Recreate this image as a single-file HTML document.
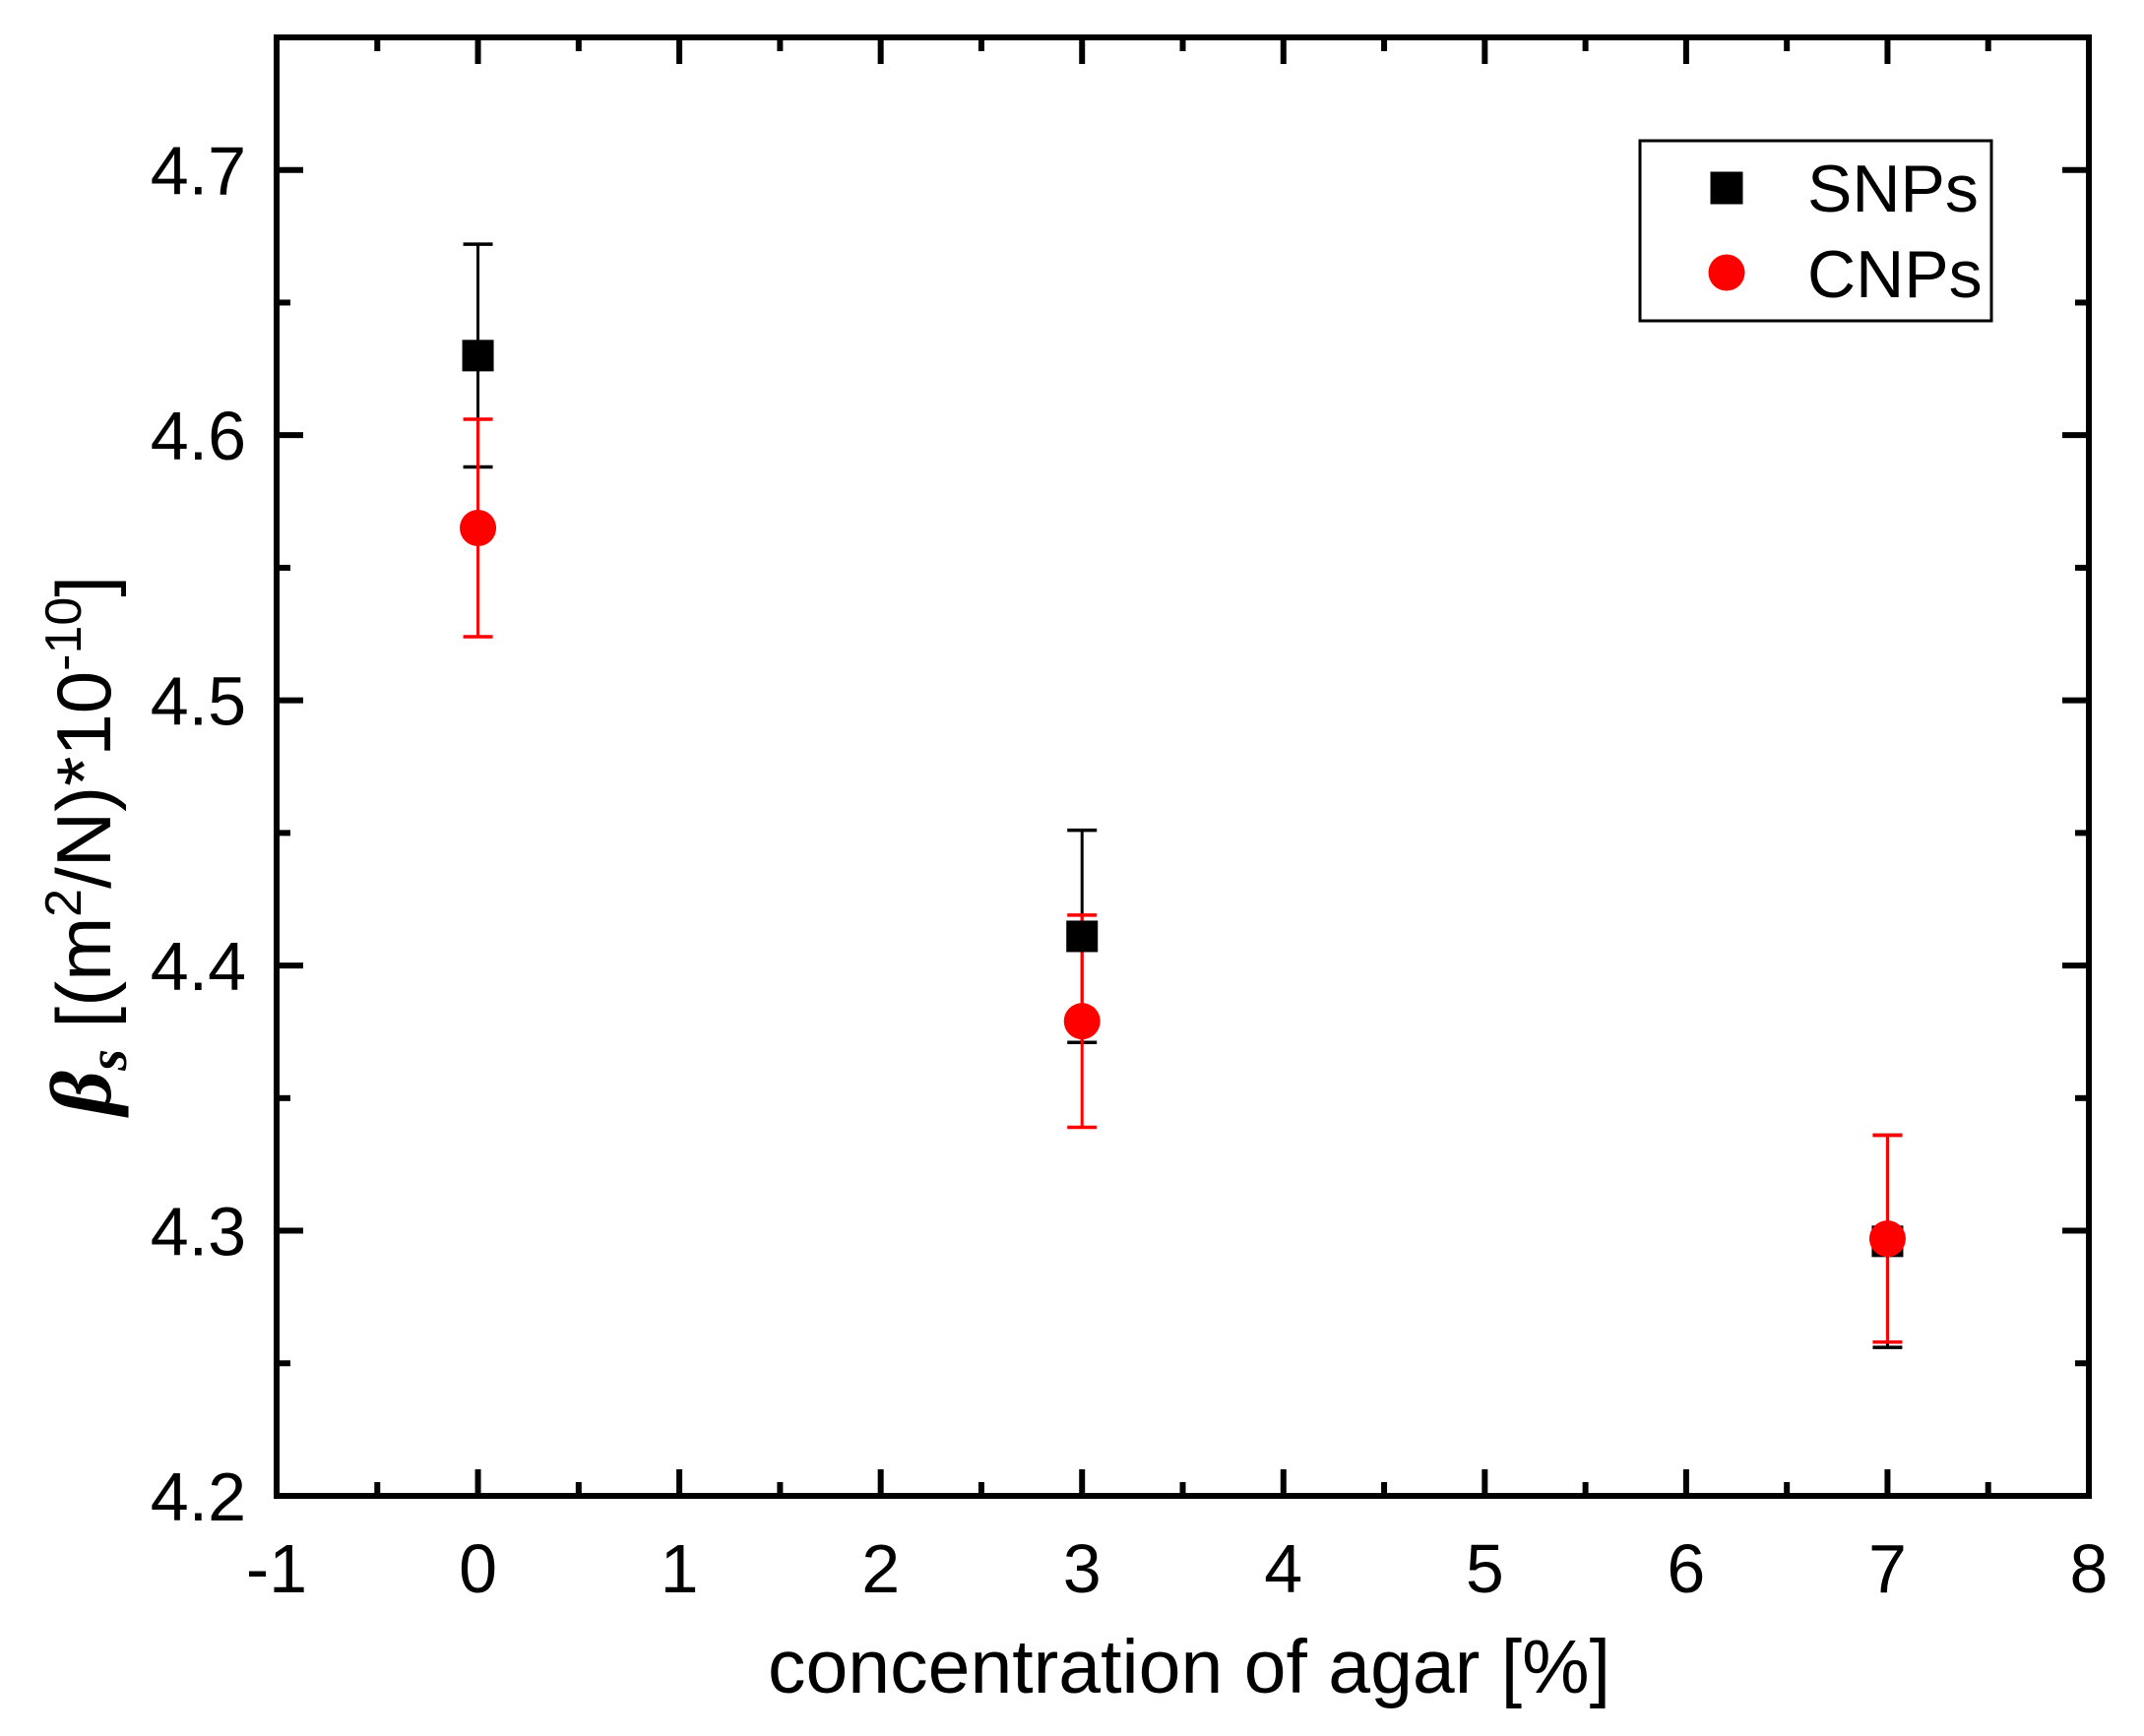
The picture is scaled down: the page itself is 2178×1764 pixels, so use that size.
<!DOCTYPE html>
<html><head><meta charset="utf-8"><style>
html,body{margin:0;padding:0;background:#fff;}
svg text{font-family:"Liberation Sans",Arial,sans-serif;fill:#000;}
</style></head><body>
<svg id="chart" width="2178" height="1759" xmlns="http://www.w3.org/2000/svg">
<rect width="2178" height="1759" fill="#fff"/>
<g id="marks"></g>
<g id="axes"></g>
<g>
  <rect x="1666" y="143" width="357" height="183" fill="#fff" stroke="#000" stroke-width="3"/>
  <rect x="1737.5" y="174.5" width="33" height="33" fill="#000"/>
  <text x="1836" y="215" font-size="68">SNPs</text>
  <circle cx="1754" cy="277" r="18.5" fill="#ff0000"/>
  <text x="1836" y="302" font-size="68">CNPs</text>
</g>
<text x="1208" y="1720" font-size="77" text-anchor="middle">concentration of agar [%]</text>
<text transform="translate(112,859) rotate(-90)" font-size="78" text-anchor="middle"><tspan font-family="Liberation Serif" font-style="italic" font-weight="bold" font-size="88">β</tspan><tspan font-family="Liberation Serif" font-style="italic" font-weight="bold" font-size="56" dy="16">s</tspan><tspan dy="-16"> [(m</tspan><tspan font-size="52" dy="-30">2</tspan><tspan dy="30">/N)*10</tspan><tspan font-size="52" dy="-30">-10</tspan><tspan dy="30">]</tspan></text>
</svg>
<script>
const xCats = [0, 3, 7];
const snpsVals = [4.630, 4.411, 4.296];
const snpsErr = [0.042, 0.040, 0.040];
const cnpsVals = [4.565, 4.379, 4.297];
const cnpsErr = [0.041, 0.040, 0.039];
const xTicks = [-1, 0, 1, 2, 3, 4, 5, 6, 7, 8];
const yTicks = [4.2, 4.3, 4.4, 4.5, 4.6, 4.7];

const L = 281, R = 2122, T = 38, B = 1520;
const xMin = -1, xMax = 8, yMin = 4.2, yMax = 4.75;
function xs(v){ return L + (v - xMin) / (xMax - xMin) * (R - L); }
function ys(v){ return B - (v - yMin) / (yMax - yMin) * (B - T); }
const NS = "http://www.w3.org/2000/svg";
function mk(tag, attrs, parent){
  const e = document.createElementNS(NS, tag);
  for (const k in attrs) e.setAttribute(k, attrs[k]);
  parent.appendChild(e); return e;
}
const marks = document.getElementById('marks');
const axes = document.getElementById('axes');

function errbar(x, v, err, color, name){
  const g = mk('g', {}, marks);
  
  
  const cx = xs(x), y1 = ys(v + err), y2 = ys(v - err);
  mk('line', {x1:cx, x2:cx, y1:y1, y2:y2, stroke:color, 'stroke-width':3}, g);
  mk('line', {x1:cx-15, x2:cx+15, y1:y1, y2:y1, stroke:color, 'stroke-width':3.5}, g);
  mk('line', {x1:cx-15, x2:cx+15, y1:y2, y2:y2, stroke:color, 'stroke-width':3.5}, g);
}
xCats.forEach((x,i)=>{ errbar(x, snpsVals[i], snpsErr[i], '#000', 'snps-errorbar-' + x); });
xCats.forEach((x,i)=>{ errbar(x, cnpsVals[i], cnpsErr[i], '#ff0000', 'cnps-errorbar-' + x); });
xCats.forEach((x,i)=>{
  const r = mk('rect', {x: xs(x)-16, y: ys(snpsVals[i])-16, width:32, height:32, fill:'#000'}, marks);
  
  
});
xCats.forEach((x,i)=>{
  const c = mk('circle', {cx: xs(x), cy: ys(cnpsVals[i]), r:18.5, fill:'#ff0000'}, marks);
  
  
});

const frame = mk('rect', {x:L, y:T, width:R-L, height:B-T, fill:'none', stroke:'#000', 'stroke-width':6}, axes);


for (let v = xMin; v <= xMax + 1e-9; v += 0.5){
  const major = Math.abs(v - Math.round(v)) < 1e-9;
  const len = major ? 27 : 14, px = xs(v);
  mk('line', {x1:px, x2:px, y1:B, y2:B-len, stroke:'#000', 'stroke-width':6}, axes);
  mk('line', {x1:px, x2:px, y1:T, y2:T+len, stroke:'#000', 'stroke-width':6}, axes);
}
xTicks.forEach(v=>{
  const t = mk('text', {x: xs(v), y: 1618, 'font-size':70, 'text-anchor':'middle'}, axes);
  t.textContent = String(v);
  
  
});
for (let v = yMin; v <= yMax + 1e-9; v += 0.05){
  const major = Math.abs(v*10 - Math.round(v*10)) < 1e-6;
  const len = major ? 27 : 14, py = ys(v);
  mk('line', {x1:L, x2:L+len, y1:py, y2:py, stroke:'#000', 'stroke-width':6}, axes);
  mk('line', {x1:R, x2:R-len, y1:py, y2:py, stroke:'#000', 'stroke-width':6}, axes);
}
yTicks.forEach(v=>{
  const t = mk('text', {x: 250, y: ys(v)+25, 'font-size':70, 'text-anchor':'end'}, axes);
  t.textContent = v.toFixed(1);
  
  
});
</script>
</body></html>
